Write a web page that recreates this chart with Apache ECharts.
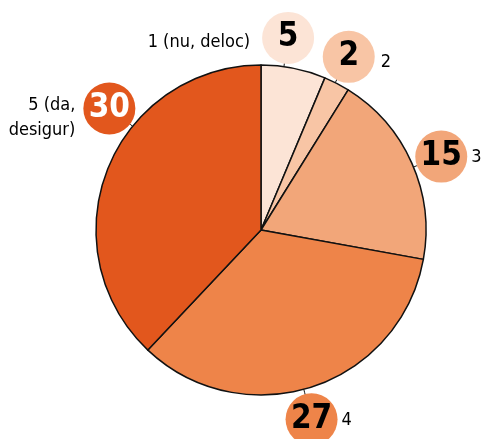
<!DOCTYPE html>
<html>
<head>
<meta charset="utf-8">
<script src="https://cdn.jsdelivr.net/npm/echarts@6/dist/echarts.min.js"></script>
<style>
html,body{margin:0;padding:0;background:#fff;}
#chart{width:483px;height:439px;}
</style>
</head>
<body>
<div id="chart"></div>
<script>
// ---- data ----
const categories = ['1 (nu, deloc)', '2', '3', '4', '5 (da,\ndesigur)'];
const values = [5, 2, 15, 27, 30];
const sliceColors = ['#fce4d6', '#f8c5a5', '#f2a679', '#ee8449', '#e2571d'];
const numberColors = ['#000', '#000', '#000', '#000', '#fff'];

// ---- layout / style constants ----
const CX = 261, CY = 230, R = 165;
const BUBBLE_R = 26, BUBBLE_DIST = 195;
const labelAngleShift = [-3.4, -0.6, 1.5, 3.2, 17.3];
const FONT = '"DejaVu Sans Condensed", "DejaVu Sans", sans-serif';

const total = values.reduce((a, b) => a + b, 0);
function labelAngle(i) {
  let start = 0;
  for (let k = 0; k < i; k++) start += values[k];
  return ((start + values[i] / 2) / total * 360 + labelAngleShift[i]) * Math.PI / 180;
}
function polar(i, d) {
  const a = labelAngle(i);
  return [CX + d * Math.sin(a), CY - d * Math.cos(a)];
}

const chart = echarts.init(document.getElementById('chart'), null, {renderer: 'canvas'});

const pieData = categories.map((c, i) => ({
  name: c,
  value: values[i],
  itemStyle: {color: sliceColors[i]},
  label: {backgroundColor: sliceColors[i], color: numberColors[i]}
}));
const nameData = categories.map((c, i) => ({name: c, value: values[i]}));

const option = {
  animation: false,
  backgroundColor: '#fff',
  series: [
    {
      type: 'pie',
      center: [CX, CY],
      radius: R,
      startAngle: 90,
      clockwise: true,
      avoidLabelOverlap: false,
      silent: true,
      itemStyle: {borderColor: '#111', borderWidth: 1.5},
      label: {
        show: true,
        position: 'outside',
        formatter: p => String(p.value),
        width: BUBBLE_R * 2,
        height: BUBBLE_R * 2,
        lineHeight: BUBBLE_R * 2,
        borderRadius: BUBBLE_R,
        align: 'center',
        verticalAlign: 'middle',
        fontFamily: FONT,
        fontSize: 33,
        fontWeight: 'bold'
      },
      labelLine: {show: true, length: 4, length2: 0, lineStyle: {color: '#111', width: 1}},
      labelLayout: function (p) {
        const i = p.dataIndex;
        const b = polar(i, BUBBLE_DIST);
        const p0 = polar(i, R);
        const p1 = polar(i, BUBBLE_DIST - BUBBLE_R + 2);
        return {
          x: b[0], y: b[1] + 1,
          align: 'center', verticalAlign: 'middle',
          labelLinePoints: [p0, [(p0[0] + p1[0]) / 2, (p0[1] + p1[1]) / 2], p1]
        };
      },
      data: pieData,
      z: 2
    },
    {
      type: 'pie',
      center: [CX, CY],
      radius: R,
      startAngle: 90,
      clockwise: true,
      avoidLabelOverlap: false,
      silent: true,
      itemStyle: {color: 'rgba(0,0,0,0)', borderWidth: 0},
      label: {
        show: true,
        position: 'outside',
        formatter: '{b}',
        fontFamily: FONT,
        fontSize: 18,
        lineHeight: 25,
        color: '#000'
      },
      labelLine: {show: false},
      labelLayout: function (p) {
        const i = p.dataIndex;
        const b = polar(i, BUBBLE_DIST);
        if (i === 0) return {x: b[0] - BUBBLE_R - 12, y: b[1] + 5, align: 'right', verticalAlign: 'middle'};
        if (i === 4) return {x: b[0] - BUBBLE_R - 8, y: b[1] - 15, align: 'right', verticalAlign: 'top'};
        const dy = i === 1 ? 6 : 2;
        const gap = i === 1 ? 6 : 4;
        return {x: b[0] + BUBBLE_R + gap, y: b[1] + dy, align: 'left', verticalAlign: 'middle'};
      },
      data: nameData,
      z: 3
    }
  ]
};
chart.setOption(option);
</script>
</body>
</html>
